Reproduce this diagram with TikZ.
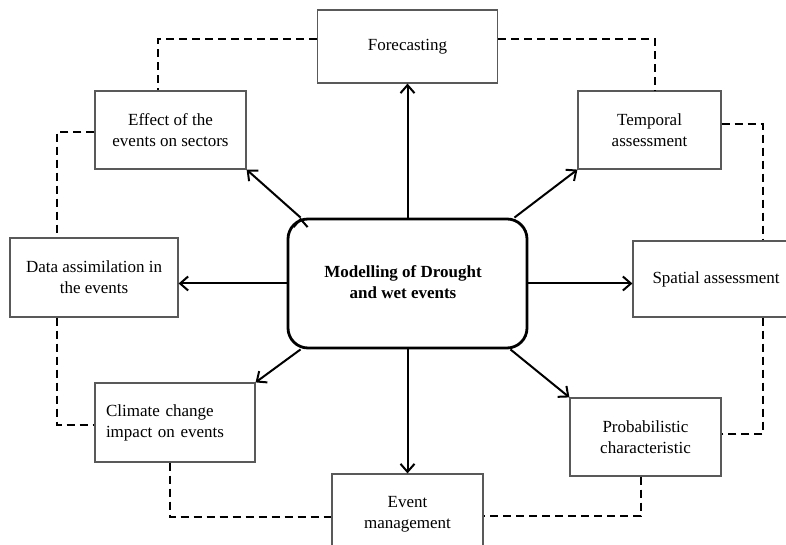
\documentclass[tikz,border=0pt]{standalone}
\usepackage{fontspec}
\setmainfont{Liberation Serif}
\usetikzlibrary{positioning,arrows.meta}
\tikzset{hub node/.style={rectangle,rounded corners=20pt,draw,line width=2.8pt,minimum width=239pt,minimum height=129pt,align=center,font=\fontsize{17}{21}\selectfont\bfseries},
topic node/.style={rectangle,draw=black!65,line width=1.2pt,align=center,inner sep=0pt,font=\fontsize{17}{21}\selectfont},
link/.style={line width=2pt,dash pattern=on 8pt off 5pt},
}

\begin{document}
\begin{tikzpicture}[x=1pt,y=1pt]
				\useasboundingbox (0,0) rectangle (786,545);
				\node[hub node] (central) at (407.5,261.5) {\raisebox{3pt}{\hspace*{-9pt}\begin{tabular}{@{}c@{}}Modelling of Drought\\and wet events\end{tabular}}};
				\node[topic node,minimum width=180pt,minimum height=73pt] (forecast) [above=134pt of central] {Forecasting};
				\node[topic node,minimum width=143pt,minimum height=78pt] (temporal) [above right=48pt and 49pt of central] {Temporal\\assessment};
				\node[topic node,minimum width=166pt,minimum height=76pt] (spatial) [right=104pt of central,yshift=4.5pt] {Spatial assessment};
				\node[topic node,minimum width=151pt,minimum height=78pt] (prob) [below right=48pt and 41pt of central] {Probabilistic\\characteristic};
				\node[topic node,minimum width=151pt,minimum height=80pt] (event) [below=124pt of central] {Event\\management};
				\node[topic node,minimum width=160pt,minimum height=79pt,text width=138pt,align=left] (climate) [below left=33pt and 31pt of central] {Climate change\\impact on events};
				\node[topic node,minimum width=168pt,minimum height=79pt] (data) [left=108pt of central,yshift=6pt] {Data assimilation in\\the events};
				\node[topic node,minimum width=151pt,minimum height=78pt] (effect) [above left=48pt and 40pt of central] {Effect of the\\events on sectors};
				
				\path[draw,line width=2pt,-{Straight Barb[length=8pt,width=14pt]}]
				(central.north) edge (forecast.south)
				([xshift=-14pt]central.north east) edge (temporal.south west)
				(central.east) edge (central.east -| spatial.west)
				([xshift=-18pt]central.south east) edge (prob.north west)
				(central.south) edge (event.north)
				([xshift=14pt]central.south west) edge (climate.north east)
				(central.west) edge (central.west -| data.east)
				([xshift=14pt]central.north west) edge (effect.south east);
				
				\draw[link] ([yshift=7.5pt]forecast.west) -| ([xshift=-12.5pt]effect.north);
				\draw[link] ([yshift=-2pt]effect.west) -| ([xshift=-37pt]data.north);
				\draw[link] ([xshift=-37pt]data.south) |- ([yshift=-2.5pt]climate.west);
				\draw[link] ([xshift=-5pt]climate.south) |- ([yshift=-3pt]event.west);
				\draw[link] ([xshift=-5pt]prob.south) |- ([yshift=-2pt]event.east);
				\draw[link] ([xshift=47pt]spatial.south) |- ([yshift=3pt]prob.east);
				\draw[link] ([yshift=6pt]temporal.east) -| ([xshift=47pt]spatial.north);
				\draw[link] ([yshift=7.5pt]forecast.east) -| ([xshift=5.5pt]temporal.north);
				
			\end{tikzpicture}
\end{document}
